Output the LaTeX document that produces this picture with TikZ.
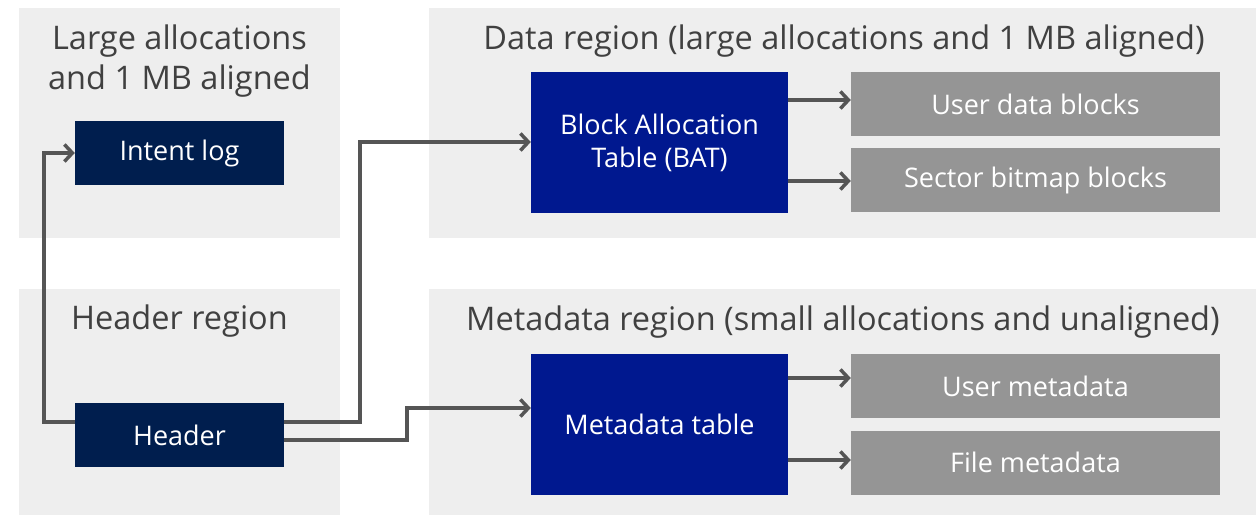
\documentclass[tikz,border=0pt]{standalone}
\usepackage{fontspec}
\setmainfont{Open Sans}
\usetikzlibrary{arrows.meta}
\definecolor{panel}{HTML}{EEEEEE}
\definecolor{titlegray}{HTML}{404040}
\definecolor{linegray}{HTML}{555555}
\definecolor{navy}{HTML}{001E4E}
\definecolor{royal}{HTML}{00188F}
\definecolor{boxgray}{HTML}{959595}
\tikzset{
  regionbox/.style={fill=panel, draw=none},
  regiontitle/.style={text=titlegray, font=\fontsize{32.5}{40}\selectfont, align=center, inner sep=0pt},
  darkbox/.style={fill=navy, text=white, minimum width=209pt, minimum height=64pt, inner sep=0pt, font=\fontsize{27}{33}\selectfont},
  bluebox/.style={fill=royal, text=white, minimum width=257pt, minimum height=141pt, inner sep=0pt, align=center, font=\fontsize{27}{33}\selectfont},
  graybox/.style={fill=boxgray, text=white, minimum width=369pt, minimum height=64pt, inner sep=0pt, font=\fontsize{27}{33}\selectfont},
  conn/.style={draw=linegray, line width=3.5pt, -{Straight Barb[length=8pt,width=17pt]}}
}
\begin{document}
\begin{tikzpicture}[x=1pt,y=-1pt]
\useasboundingbox (0,0) rectangle (1258,515);
% panels
\fill[regionbox] (19,8) rectangle (340,238);
\fill[regionbox] (19,289) rectangle (340,515);
\fill[regionbox] (429,8) rectangle (1256,238);
\fill[regionbox] (429,289) rectangle (1256,515);
% titles
\node[regiontitle] (t1) at (179.5,61) {Large allocations\\and 1 MB aligned};
\node[regiontitle] (t2) at (179.5,321) {Header region};
\node[regiontitle] (t3) at (844,41) {Data region (large allocations and 1 MB aligned)};
\node[regiontitle] (t4) at (843,322) {Metadata region (small allocations and unaligned)};
% nodes
\node[darkbox] (intent) at (179.5,153) {Intent log};
\node[darkbox] (hdr) at (179.5,435) {Header};
\node[bluebox] (bat) at (659.5,142.5) {Block Allocation\\Table (BAT)};
\node[bluebox] (meta) at (659.5,424.5) {Metadata table};
\node[graybox] (ud) at (1035.5,104) {User data blocks};
\node[graybox] (sb) at (1035.5,180) {Sector bitmap blocks};
\node[graybox] (um) at (1035.5,386) {User metadata};
\node[graybox] (fm) at (1035.5,462.5) {File metadata};
% connectors
\draw[conn] ([yshift=13pt]hdr.west) -- ++(-31,0) |- (intent.west);
\draw[conn] ([yshift=13pt]hdr.east) -- ++(76,0) |- ([yshift=0.5pt]bat.west);
\draw[conn] ([yshift=-5pt]hdr.east) -- ++(123,0) |- ([yshift=16.5pt]meta.west);
\coordinate (b1) at ([yshift=42.5pt]bat.east);
\coordinate (b2) at ([yshift=-38.5pt]bat.east);
\coordinate (m1) at ([yshift=46.5pt]meta.east);
\coordinate (m2) at ([yshift=-35.5pt]meta.east);
\draw[conn] (b1) -- (b1 -| ud.west);
\draw[conn] (b2) -- (b2 -| sb.west);
\draw[conn] (m1) -- (m1 -| um.west);
\draw[conn] (m2) -- (m2 -| fm.west);
\end{tikzpicture}
\end{document}
